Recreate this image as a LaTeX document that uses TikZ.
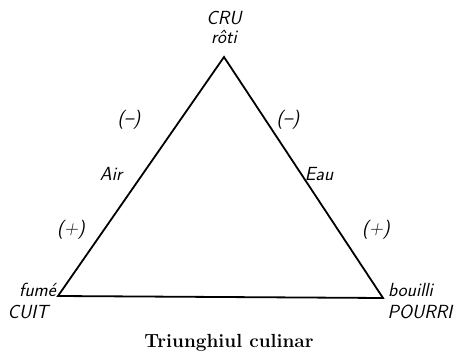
\documentclass[tikz,border=0pt]{standalone}
\usepackage{fontspec}
\usepackage{tikz}
\usetikzlibrary{positioning}
\begin{document}
\begin{tikzpicture}[x=1pt, y=-1pt,
    lbl/.style={font=\fontsize{19}{21}\selectfont\sffamily\slshape, inner sep=0pt},
    side/.style={line width=1.8pt, line join=miter}
]
\useasboundingbox (0,0) rectangle (455,353);
% corners of the triangle
\coordinate (cru) at (224,57);
\coordinate (cuit) at (58,296);
\coordinate (pourri) at (383,298);
\draw[side] (cru) -- (cuit) -- (pourri) -- cycle;

\node[lbl] (rot) at (224,37) {r\^oti};
\node[lbl, above=5pt of rot] (crl) {CRU};
\node[lbl, anchor=east] (fum) at (56,290) {fum\'e};
\node[lbl] (cut) at (28,312) {CUIT};
\node[lbl, anchor=west] (bou) at (388,290) {bouilli};
\node[lbl] (pou) at (420,312) {POURRI};

\node[lbl] (air) at (111,174) {Air};
\node[lbl] (eau) at (319,174) {Eau};
\node[lbl] (mla) at (129,120) {(--)};
\node[lbl] (mlb) at (288,120) {(--)};
\node[lbl] (pla) at (71,230) {(+)};
\node[lbl] (plb) at (376,230) {(+)};

\node[font=\fontsize{19}{22}\selectfont\bfseries] (tit) at (229,343) {Triunghiul culinar};
\end{tikzpicture}
\end{document}
